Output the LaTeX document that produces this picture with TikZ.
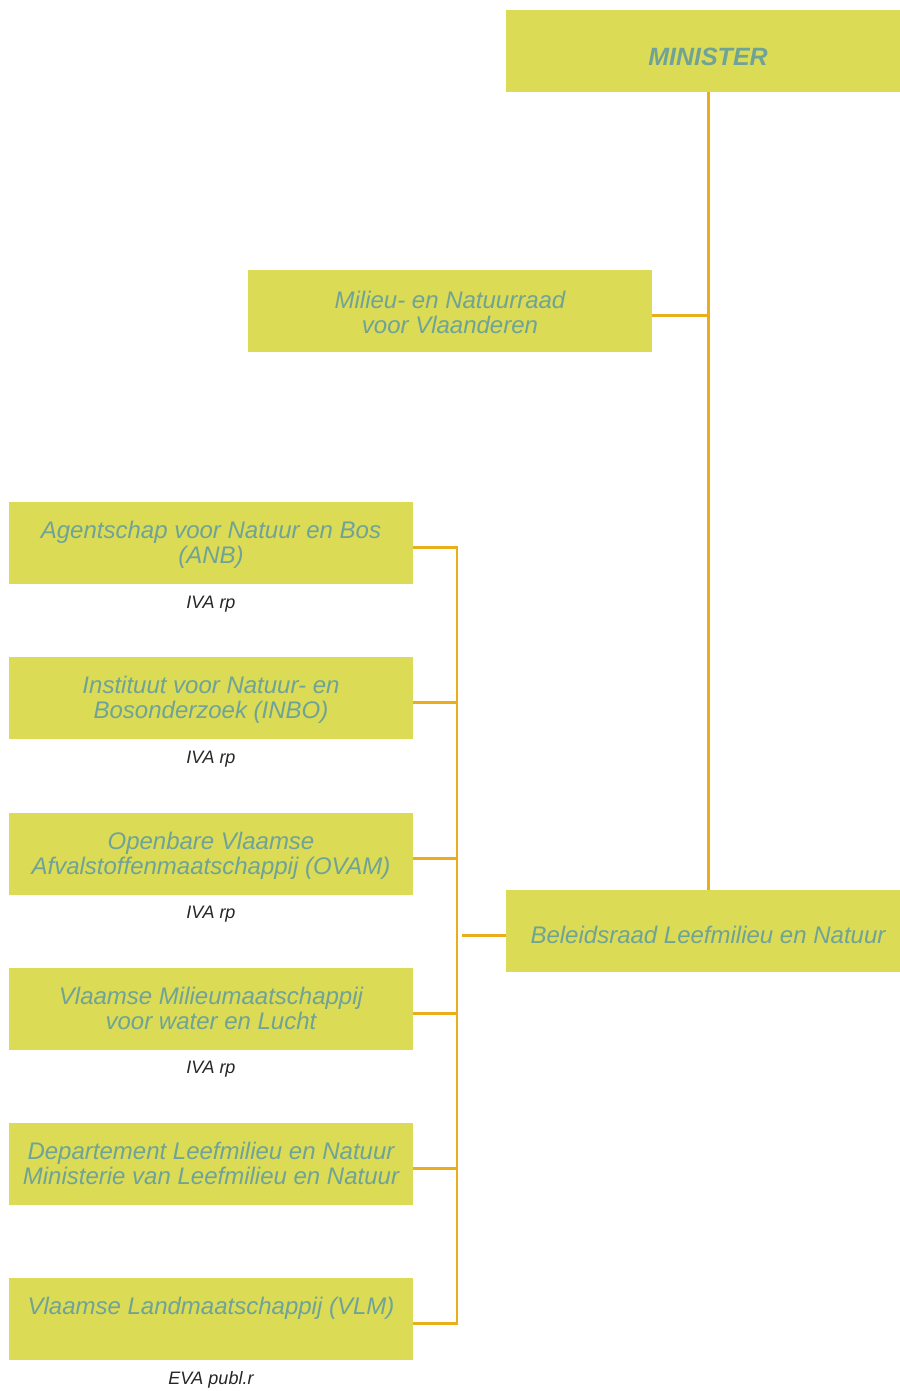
\documentclass[tikz,border=0pt]{standalone}
\usepackage{fontspec}
\setmainfont{Liberation Sans}
\usetikzlibrary{positioning}
\definecolor{boxfill}{RGB}{219,219,85}
\definecolor{boxtext}{RGB}{111,163,152}
\definecolor{linkline}{RGB}{235,174,27}
\begin{document}
\begin{tikzpicture}[x=1pt,y=-1pt]
\tikzstyle{mybox} = [fill=boxfill, minimum width=404pt, minimum height=82pt, inner sep=0pt, anchor=north west]
\tikzstyle{mytext} = [text=boxtext, font=\fontsize{24}{25}\selectfont\itshape, align=center, inner sep=0pt]
\tikzstyle{mytype} = [font=\fontsize{18}{20}\selectfont\itshape, text=black!85, inner sep=0pt, anchor=base]
\tikzstyle{myline} = [draw=linkline, line width=2.8pt]
\useasboundingbox (0,0) rectangle (899,1391);
% top of the chart
\node[mybox] (minister) at (506,10) {};
\node[mytext, font=\fontsize{25}{26}\selectfont\bfseries\itshape] (ministertext) at (708,57) {MINISTER};
\node[mybox] (raad) at (248,270) {};
\node[mytext, anchor=north] (raadtext) at (450,291) {Milieu- en Natuurraad\\voor Vlaanderen};
\node[mybox] (beleid) at (506,890) {};
\node[mytext] (beleidtext) at (708,935) {Beleidsraad Leefmilieu en Natuur};
% agencies
\node[mybox] (anb) at (9,502) {};
\node[mytext, anchor=north] (anbtext) at (211,521) {Agentschap voor Natuur en Bos\\(ANB)};
\node[mytype] (anbtype) at (211,608) {IVA rp};
\node[mybox] (inbo) at (9,657) {};
\node[mytext, anchor=north] (inbotext) at (211,676) {Instituut voor Natuur- en\\Bosonderzoek (INBO)};
\node[mytype] (inbotype) at (211,763) {IVA rp};
\node[mybox] (ovam) at (9,813) {};
\node[mytext, anchor=north] (ovamtext) at (211,832) {Openbare Vlaamse\\Afvalstoffenmaatschappij (OVAM)};
\node[mytype] (ovamtype) at (211,918) {IVA rp};
\node[mybox] (vmm) at (9,968) {};
\node[mytext, anchor=north] (vmmtext) at (211,987) {Vlaamse Milieumaatschappij\\voor water en Lucht};
\node[mytype] (vmmtype) at (211,1073) {IVA rp};
\node[mybox] (dep) at (9,1123) {};
\node[mytext, anchor=north] (deptext) at (211,1142) {Departement Leefmilieu en Natuur\\Ministerie van Leefmilieu en Natuur};
\node[mybox] (vlm) at (9,1278) {};
\node[mytext, anchor=north] (vlmtext) at (211,1297) {Vlaamse Landmaatschappij (VLM)};
\node[mytype] (vlmtype) at (211,1384) {EVA publ.r};
% connectors
\coordinate (bus) at (457,0);
\draw[myline] (minister.south) -- (beleid.north);
\draw[myline] ([yshift=-4pt]raad.east) -- ([yshift=-4pt]raad.east -| minister.south);
\draw[myline] ([yshift=-4pt]anb.east) -- ([yshift=-4pt]anb.east -| bus) -- ([yshift=-4pt]vlm.east -| bus) -- ([yshift=-4pt]vlm.east);
\draw[myline] ([yshift=-4pt]inbo.east) -- ([yshift=-4pt]inbo.east -| bus);
\draw[myline] ([yshift=-4pt]ovam.east) -- ([yshift=-4pt]ovam.east -| bus);
\draw[myline] ([yshift=-4pt]vmm.east) -- ([yshift=-4pt]vmm.east -| bus);
\draw[myline] ([yshift=-4pt]dep.east) -- ([yshift=-4pt]dep.east -| bus);
\draw[myline] ([yshift=-4pt]beleid.west) -- ([yshift=-4pt, xshift=5pt]beleid.west -| bus);
\end{tikzpicture}
\end{document}
